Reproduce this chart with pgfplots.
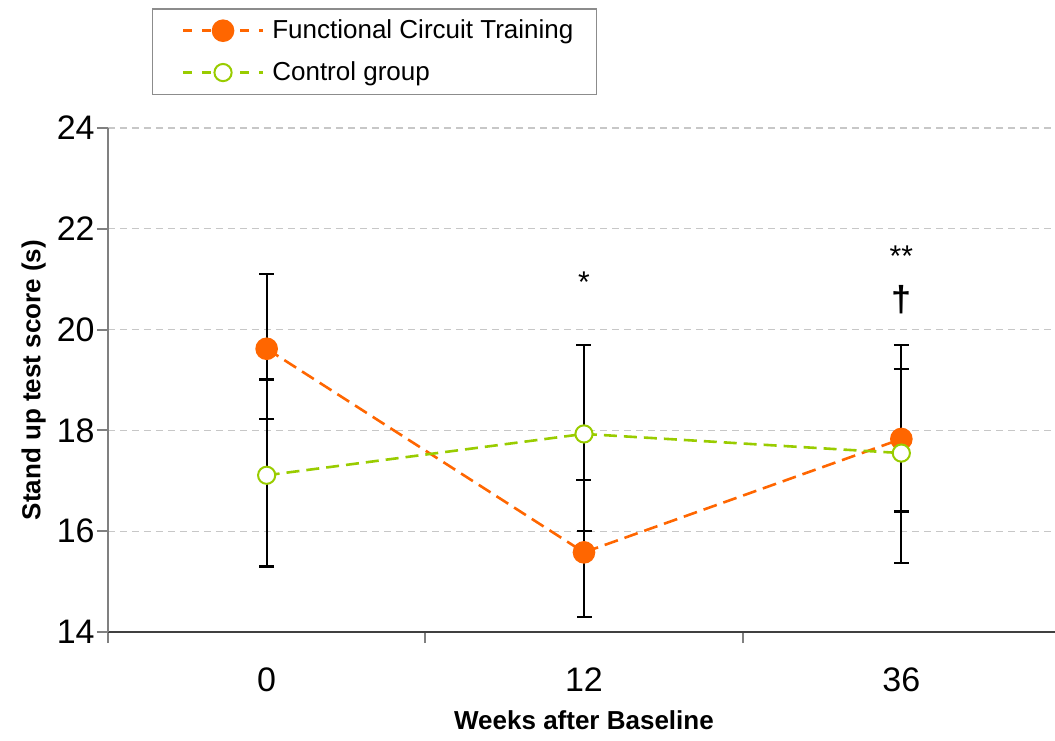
\documentclass[border=0pt]{standalone}
\usepackage{fontspec}
\setmainfont{Liberation Sans}
\usepackage{pgfplots}
\pgfplotsset{compat=1.18}
\usepackage{pgfplotstable}
\definecolor{fct}{HTML}{FF6600}
\definecolor{ctl}{HTML}{99CC00}
\pgfplotstableread{
x y ep em
0 19.62 1.49 1.39
1 15.58 1.43 1.28
2 17.83 1.39 1.44
}\fcttab
\pgfplotstableread{
x y ep em
0 17.11 1.90 1.81
1 17.93 1.76 1.93
2 17.55 2.14 2.18
}\ctltab
\begin{document}
\begin{tikzpicture}
\begin{axis}[
  scale only axis, width=476pt, height=252pt,
  xmin=-0.5, xmax=2.5, ymin=14, ymax=24,
  axis x line*=bottom, axis y line*=left,
  x axis line style={draw=black!75, line width=1pt},
  y axis line style={draw=black!50, line width=1pt},
  xtick={-0.5,0.5,1.5,2.5}, x tick label as interval,
  xticklabels={0,12,36},
  ytick={14,16,...,24},
  tick align=outside, major tick length=5.5pt,
  tick style={draw=black!50, line width=1pt},
  /pgf/number format/assume math mode=true,
  ticklabel style={font=\fontsize{17}{20}\selectfont},
  yticklabel style={inner xsep=1pt},
  xticklabel style={yshift=-9pt},
  ymajorgrids,
  major grid style={draw=black!22, dash pattern=on 3.5pt off 2.5pt, line width=0.6pt},
  xlabel={\textbf{Weeks after Baseline}},
  ylabel={\textbf{Stand up test score (s)}},
  xlabel style={font=\fontsize{13}{15}\selectfont, at={(axis description cs:0.5,-0.1746)}, anchor=center},
  ylabel style={font=\fontsize{13}{15}\selectfont, at={(axis description cs:-0.0780,0.5)}, anchor=center, rotate=0},
  legend style={at={(axis description cs:0.0462,1.238)}, anchor=north west,
    draw=black!45, line width=0.75pt, font=\fontsize{13}{15}\selectfont,
    inner xsep=9.5pt, inner ysep=3.5pt, row sep=6pt, cells={anchor=west}},
  legend image code/.code={\path (0pt,0pt) (47pt,0pt);
    \draw[#1, dash pattern=on 4.5pt off 5pt, mark repeat=2, mark phase=2] plot coordinates {(5pt,0pt) (25pt,0pt) (45pt,0pt)};},
]
\addplot[draw=none, mark=none, forget plot, error bars/.cd, y dir=both, y explicit,
  error bar style={black, line width=1.1pt}, error mark options={black, rotate=90, mark size=3.75pt, line width=1.1pt}]
  table[x=x, y=y, y error plus=ep, y error minus=em]{\fcttab};
\addplot[draw=none, mark=none, forget plot, error bars/.cd, y dir=both, y explicit,
  error bar style={black, line width=1.1pt}, error mark options={black, rotate=90, mark size=3.75pt, line width=1.1pt}]
  table[x=x, y=y, y error plus=ep, y error minus=em]{\ctltab};
\addplot[fct, line width=1.3pt, dash pattern=on 7pt off 3.5pt, mark=*, mark size=5pt,
  mark options={solid, fill=fct, draw=fct}] table[x=x, y=y]{\fcttab};
\addlegendentry{Functional Circuit Training}
\addplot[ctl, line width=1.3pt, dash pattern=on 6.5pt off 3.5pt, mark=*, mark size=4.3pt,
  mark options={solid, fill=white, draw=ctl, line width=1pt}] table[x=x, y=y]{\ctltab};
\addlegendentry{Control group}
\node[font=\fontsize{15}{18}\selectfont] at (axis cs:1,20.95) {*};
\node[font=\fontsize{15}{18}\selectfont] at (axis cs:2,21.45) {**};
\node[font=\fontsize{18}{20}\selectfont\bfseries] at (axis cs:2,20.6) {†};
\end{axis}
\pgfresetboundingbox
\path[use as bounding box] (-54pt,-54pt) rectangle (473.5pt,316pt);
\end{tikzpicture}
\end{document}
